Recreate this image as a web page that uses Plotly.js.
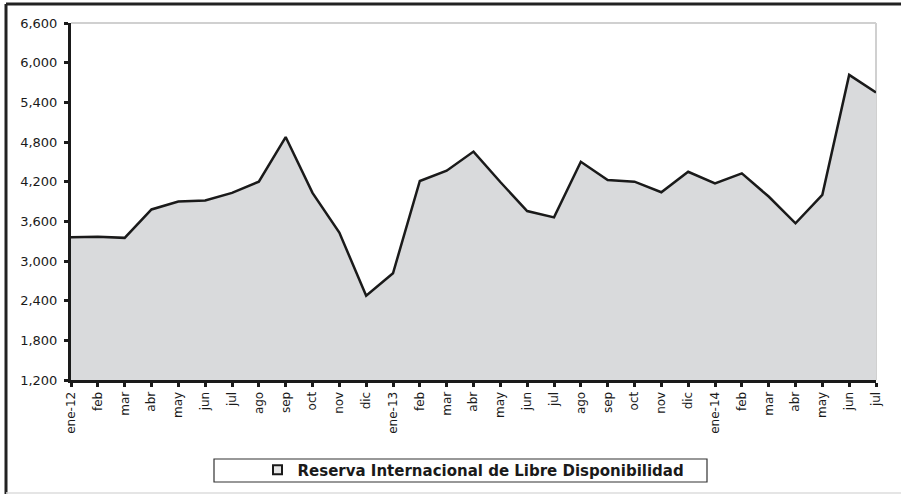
<!DOCTYPE html>
<html>
<head>
<meta charset="utf-8">
<script src="https://cdn.plot.ly/plotly-3.0.1.min.js"></script>
<style>
html,body{margin:0;padding:0;background:#fff;}
#chart{width:901px;height:495px;}
</style>
</head>
<body>
<div id="chart"></div>
<script>
const categories = ["ene-12","feb","mar","abr","may","jun","jul","ago","sep","oct","nov","dic",
  "ene-13","feb ","mar ","abr ","may ","jun ","jul ","ago ","sep ","oct ","nov ","dic ",
  "ene-14","feb  ","mar  ","abr  ","may  ","jun  ","jul  "];
const reserva = [3360,3365,3350,3780,3900,3915,4030,4200,4875,4030,3430,2475,
  2815,4210,4365,4655,4195,3755,3660,4500,4225,4200,4040,4350,
  4175,4325,3975,3570,4000,5815,5550];
const yTicks = [1200,1800,2400,3000,3600,4200,4800,5400,6000,6600];
const yTickText = ["1,200","1,800","2,400","3,000","3,600","4,200","4,800","5,400","6,000","6,600"];
const seriesName = "Reserva Internacional de Libre Disponibilidad";

const traces = [
  {
    x: categories, y: reserva, type: 'scatter', mode: 'lines',
    fill: 'tozeroy', fillcolor: '#d9dadc',
    line: {color: '#1a1a1a', width: 2.5},
    showlegend: false, hoverinfo: 'x+y'
  },
  {
    x: [null], y: [null], type: 'scatter', mode: 'markers',
    name: seriesName,
    marker: {symbol: 'square', size: 9, color: '#e6e6e6', line: {color: '#1a1a1a', width: 2}},
    showlegend: true
  }
];

const layout = {
  width: 901, height: 495,
  margin: {l: 71, r: 25, t: 23, b: 115, autoexpand: false},
  paper_bgcolor: '#ffffff', plot_bgcolor: '#ffffff',
  font: {family: 'DejaVu Sans, sans-serif', color: '#1a1a1a'},
  xaxis: {
    type: 'category', tickvals: categories, ticktext: categories.map(s => s.trim()),
    tickangle: -90, tickfont: {size: 12, color: '#1a1a1a', family: 'DejaVu Sans, sans-serif'},
    showgrid: false, zeroline: false, automargin: false,
    showline: true, linecolor: '#1a1a1a', linewidth: 3,
    ticks: 'outside', ticklen: 4, tickwidth: 3, tickcolor: '#1a1a1a',
    range: [0, categories.length - 1], fixedrange: true
  },
  yaxis: {
    range: [1200, 6600], tickvals: yTicks, ticktext: yTickText,
    tickfont: {size: 13, color: '#1a1a1a', family: 'DejaVu Sans, sans-serif'},
    showgrid: false, zeroline: false, automargin: false,
    showline: true, linecolor: '#1a1a1a', linewidth: 3,
    ticks: 'outside', ticklen: 4, tickwidth: 3, tickcolor: '#1a1a1a',
    ticklabelstandoff: 4,
    fixedrange: true
  },
  showlegend: true,
  legend: {
    orientation: 'h', x: 0.5, xanchor: 'center', y: -0.252, yanchor: 'middle',
    font: {size: 15, color: '#1a1a1a', family: 'DejaVu Sans, sans-serif', weight: 'bold'},
    bgcolor: 'rgba(0,0,0,0)', borderwidth: 0, itemwidth: 20
  },
  shapes: [
    {type: 'line', xref: 'paper', yref: 'paper', x0: 0, x1: 1, y0: 1, y1: 1, line: {color: '#d0d0d0', width: 2}, layer: 'below'},
    {type: 'line', xref: 'paper', yref: 'paper', x0: 1, x1: 1, y0: 0, y1: 1, line: {color: '#d0d0d0', width: 2}, layer: 'below'},
    {type: 'rect', xref: 'paper', yref: 'paper', x0: (214-71)/805, x1: (707-71)/805, y0: (380-482)/357, y1: (380-459)/357, line: {color: '#333333', width: 1.2}},
    {type: 'line', xref: 'paper', yref: 'paper', x0: (6-71)/805, x1: (901-71)/805, y0: (380-4)/357, y1: (380-4)/357, line: {color: '#222222', width: 3}},
    {type: 'line', xref: 'paper', yref: 'paper', x0: (6-71)/805, x1: (6-71)/805, y0: (380-4)/357, y1: (380-494)/357, line: {color: '#222222', width: 3}},
    {type: 'line', xref: 'paper', yref: 'paper', x0: (6-71)/805, x1: (901-71)/805, y0: (380-493)/357, y1: (380-493)/357, line: {color: '#dddddd', width: 1.5}}
  ]
};

Plotly.newPlot('chart', traces, layout, {displayModeBar: false, staticPlot: true});
</script>
</body>
</html>
